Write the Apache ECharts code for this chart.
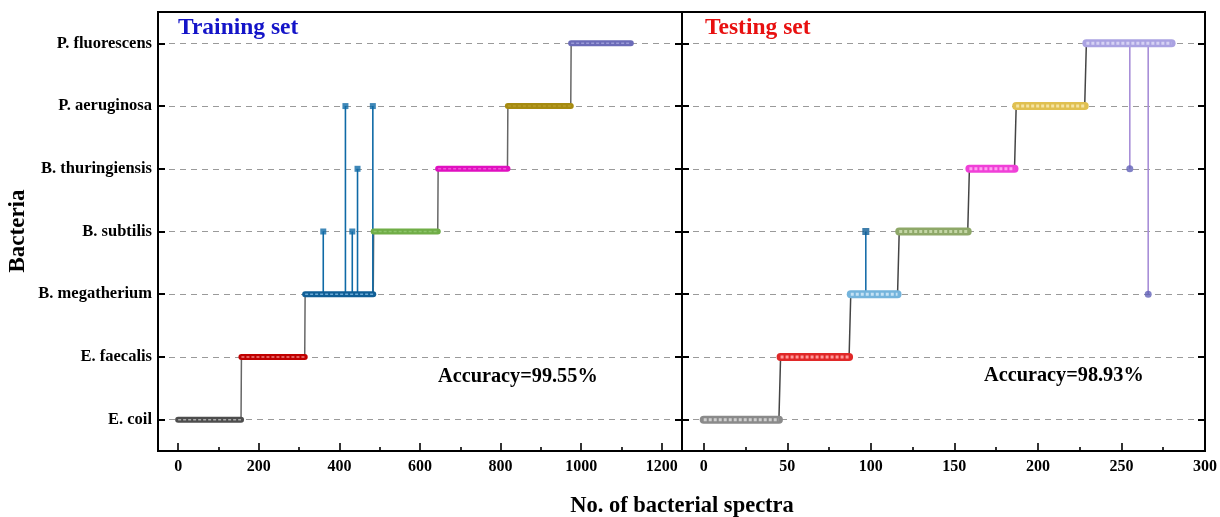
<!DOCTYPE html>
<html><head><meta charset="utf-8">
<script src="https://cdn.jsdelivr.net/npm/echarts@6/dist/echarts.min.js"></script>
<style>html,body{margin:0;padding:0;background:#fff}#c{width:1220px;height:517px}</style>
</head><body><div id="c"></div>
<script>
// ---- data ----
const categories = ['E. coil', 'E. faecalis', 'B. megatherium', 'B. subtilis', 'B. thuringiensis', 'P. aeruginosa', 'P. fluorescens'];
// Training set: sample index range of each true class (all predicted correctly except listed)
const trainStart = [0, 157, 315, 485, 645, 818, 975];
const trainEnd   = [156, 314, 484, 644, 817, 974, 1123];
// misclassified training samples: [trueClass, sampleIndex, predictedClass]
const trainMis = [[2, 360, 3], [2, 415, 5], [2, 432, 3], [2, 445, 4], [2, 483, 5]];
// Testing set
const testStart = [0, 46, 88, 117, 159, 187, 229];
const testEnd   = [45, 87, 116, 158, 186, 228, 280];
const testMis = [[2, 97, 3], [6, 255, 4], [6, 266, 2]];
const trainTickLabels = [0, 200, 400, 600, 800, 1000, 1200];
const testTickLabels = [0, 50, 100, 150, 200, 250, 300];
const titles = ['Training set', 'Testing set'];
const accuracies = ['Accuracy=99.55%', 'Accuracy=98.93%'];

// ---- styles ----
const FONT = "'Liberation Serif','Times New Roman',serif";
const trainColors = ['#4d4d4d', '#c00000', '#0f5e96', '#70ad47', '#e010c0', '#a68b10', '#6b6bb8'];
const trainInner  = ['#a8a8a8', '#ee8080', '#6aa9d6', '#8cc46a', '#f050d8', '#b89c28', '#9a9ad6'];
const testColors  = ['#8a8a8a', '#e02828', '#74b4dc', '#8ea868', '#f040d8', '#e0c050', '#aaa2e2'];
const testInner   = ['#cfcfcf', '#ff9a9a', '#c4e2f5', '#c4d6a6', '#ffa0f0', '#f5e4a4', '#d6d2f4'];
const trainSpike = ['#0f5e96', '#0f5e96', '#0f6aa6', '#0f5e96', '#0f5e96', '#0f5e96', '#0f5e96'];
const testSpike = ['#0f6aa6', '#0f6aa6', '#1a6faa', '#0f6aa6', '#0f6aa6', '#0f6aa6', '#a88fd8'];
const testMarker = ['#0f5e96', '#0f5e96', '#0f5e96', '#0f5e96', '#0f5e96', '#0f5e96', '#6262b8'];
const testMarkerSym = ['rect', 'rect', 'rect', 'rect', 'rect', 'rect', 'circle'];
const trainMarkerSym = ['rect', 'rect', 'rect', 'rect', 'rect', 'rect', 'rect'];

function buildSeries(starts, ends, mis, xi, yi, colors, inner, spikeColors, markerColors, barW, innerW, markerSyms, markerSize, connColor) {
  const s = [];
  const conn = [];
  for (let i = 0; i < starts.length; i++) { conn.push([starts[i], i]); conn.push([ends[i], i]); }
  s.push({type: 'line', xAxisIndex: xi, yAxisIndex: yi, data: conn, symbol: 'none', z: 1,
    lineStyle: {color: connColor, width: 1.5}, silent: true});
  for (let i = 0; i < starts.length; i++) {
    const m = mis.filter(d => d[0] === i);
    if (m.length) {
      const sp = [[starts[i], i]];
      m.forEach(d => { sp.push([d[1], i]); sp.push([d[1], d[2]]); sp.push([d[1], i]); });
      sp.push([ends[i], i]);
      s.push({type: 'line', xAxisIndex: xi, yAxisIndex: yi, data: sp, symbol: 'none', z: 2,
        lineStyle: {color: spikeColors[i], width: 1.6}});
      s.push({type: 'scatter', xAxisIndex: xi, yAxisIndex: yi, data: m.map(d => [d[1], d[2]]), z: 6,
        symbol: markerSyms[i], symbolSize: markerSize, itemStyle: {color: markerColors[i]}});
    }
    s.push({type: 'line', xAxisIndex: xi, yAxisIndex: yi, data: [[starts[i], i], [ends[i], i]], symbol: 'none', z: 3,
      lineStyle: {color: colors[i], width: barW, cap: 'round'}});
    s.push({type: 'line', xAxisIndex: xi, yAxisIndex: yi, data: [[starts[i], i], [ends[i], i]], symbol: 'none', z: 4,
      lineStyle: {color: inner[i], width: innerW, type: [3, 2]}});
  }
  return s;
}

const gridLine = {show: true, alignWithLabel: true, lineStyle: {color: '#9a9a9a', type: [6, 5], width: 1.2}};
function yAx(grid, pos, labels, split) {
  return {type: 'category', gridIndex: grid, position: pos, data: categories, boundaryGap: true,
    axisLine: {show: true, onZero: false, lineStyle: {color: '#000', width: 2}},
    axisTick: {show: true, inside: true, alignWithLabel: true, interval: 0, length: 7, lineStyle: {color: '#000', width: 2}},
    axisLabel: {show: labels, interval: 0, margin: 6, color: '#000', fontFamily: FONT, fontWeight: 'bold', fontSize: 16.5},
    splitLine: split ? gridLine : {show: false}};
}
function xAx(grid, min, max, step, labels) {
  return {type: 'value', gridIndex: grid, position: 'bottom', min: min, max: max, minInterval: step, maxInterval: step, splitNumber: 6,
    axisLine: {show: true, onZero: false, lineStyle: {color: '#000', width: 2}},
    axisTick: {show: true, inside: true, length: 8, lineStyle: {color: '#000', width: 1.6}},
    minorTick: {show: true, splitNumber: 2, length: 4, lineStyle: {color: '#000', width: 1.6}},
    axisLabel: {margin: 8, color: '#000', fontFamily: FONT, fontWeight: 'bold', fontSize: 16,
      formatter: v => labels.indexOf(v) >= 0 ? String(v) : ''},
    splitLine: {show: false}};
}

const chart = echarts.init(document.getElementById('c'), null, {renderer: 'canvas'});
const txt = (x, y, t, size, color, align, rot) => ({type: 'text', x: x, y: y, z: 100, rotation: rot || 0,
  style: {text: t, fill: color, font: 'bold ' + size + 'px ' + FONT, align: align || 'left', verticalAlign: 'middle'}});

chart.setOption({
  animation: false,
  backgroundColor: '#fff',
  grid: [
    {left: 158, top: 12, width: 524, height: 439, show: true, borderColor: '#000', borderWidth: 2},
    {left: 682, top: 12, width: 524, height: 439, show: true, borderColor: '#000', borderWidth: 2}
  ],
  xAxis: [xAx(0, -50, 1250, 200, trainTickLabels), xAx(1, -13, 300, 50, testTickLabels)],
  yAxis: [yAx(0, 'left', true, true), yAx(0, 'right', false, false), yAx(1, 'left', false, true), yAx(1, 'right', false, false)],
  series: [].concat(
    buildSeries(trainStart, trainEnd, trainMis, 0, 0, trainColors, trainInner, trainSpike, trainSpike, 6, 1.5, trainMarkerSym, 6, '#666'),
    buildSeries(testStart, testEnd, testMis, 1, 2, testColors, testInner, testSpike, testMarker, 8, 3, testMarkerSym, 7, '#444')
  ),
  graphic: [
    txt(178, 28, titles[0], 23.5, '#1414c8'),
    txt(705, 28, titles[1], 23.5, '#e81010'),
    txt(438, 377, accuracies[0], 20.3, '#000'),
    txt(984, 376, accuracies[1], 20.3, '#000'),
    txt(18, 231, 'Bacteria', 23, '#000', 'center', Math.PI / 2),
    txt(682, 506, 'No. of bacterial spectra', 22.5, '#000', 'center')
  ]
});
</script></body></html>
